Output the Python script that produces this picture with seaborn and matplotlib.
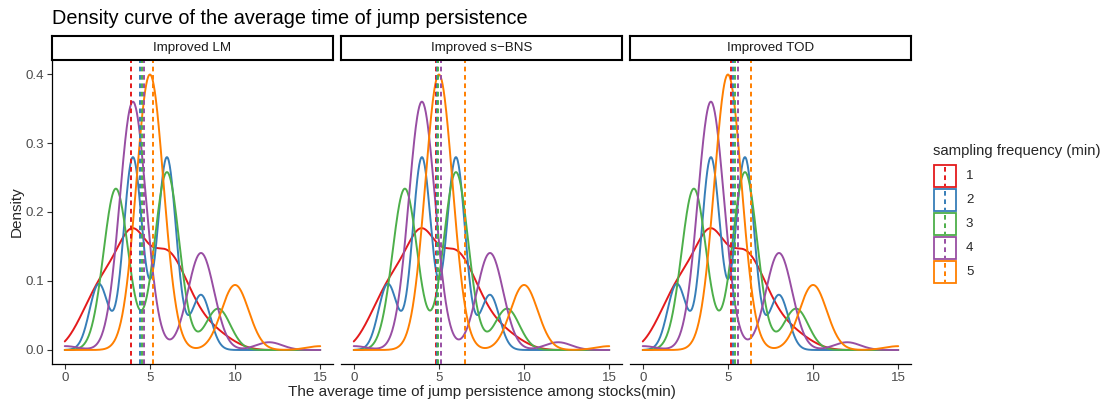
import numpy as np
import pandas as pd
import matplotlib
matplotlib.use("Agg")
import matplotlib.pyplot as plt
import seaborn as sns
from matplotlib.patches import Rectangle

# ---------------- data ----------------
methods = ["Improved LM", "Improved s\u2212BNS", "Improved TOD"]
freq_labels = ["1", "2", "3", "4", "5"]

# observed average persistence times (min) and how many stocks take each value
freq1_values = [1, 2, 3, 4, 5, 6, 7, 8, 9, 10]
freq1_counts = [5, 11, 13, 22, 12, 17, 11, 5, 3, 1]
freq2_values = [2, 4, 6, 8]
freq2_counts = [12, 35, 35, 10]
freq3_values = [3, 6, 9]
freq3_counts = [39, 43, 10]
freq4_values = [0, 4, 8, 12]
freq4_counts = [1, 64, 25, 2]
freq5_values = [5, 10, 15]
freq5_counts = [72, 17, 1]

# mean lines per method (freq 1..5)
means_LM = [3.90, 4.40, 4.52, 4.64, 5.18]
means_sBNS = [4.82, 4.90, 4.97, 5.12, 6.55]
means_TOD = [5.20, 5.31, 5.41, 5.60, 6.33]

colors = ["#E41A1C", "#377EB8", "#4DAF4A", "#984EA3", "#FF7F00"]

title = "Density curve of the average time of jump persistence"
xlabel = "The average time of jump persistence among stocks(min)"
ylabel = "Density"
legend_title = "sampling frequency (min)"
yticks = [0.0, 0.1, 0.2, 0.3, 0.4]
xticks = [0, 5, 10, 15]

# ---------------- build observations ----------------
value_sets = [freq1_values, freq2_values, freq3_values, freq4_values, freq5_values]
count_sets = [freq1_counts, freq2_counts, freq3_counts, freq4_counts, freq5_counts]
obs = pd.concat(
    [pd.DataFrame({"time": np.repeat(np.asarray(v, float), c), "freq": f})
     for f, v, c in zip(freq_labels, value_sets, count_sets)],
    ignore_index=True)
mean_sets = [means_LM, means_sBNS, means_TOD]
pal = dict(zip(freq_labels, colors))


def bw_nrd0(kde):
    """R's default bandwidth (bw.nrd0), expressed as a scipy factor."""
    x = np.asarray(kde.dataset).ravel()
    sd = x.std(ddof=1)
    q1, q3 = np.percentile(x, [25, 75])
    lo = min(sd, (q3 - q1) / 1.34)
    if lo == 0:
        lo = sd if sd else (abs(x[0]) if x[0] else 1.0)
    h = 0.9 * lo * len(x) ** -0.2
    return h / sd


# ---------------- figure ----------------
sns.set_style("white")
plt.rcParams["font.family"] = ["Liberation Sans", "DejaVu Sans"]

W, H = 1108, 401
fig = plt.figure(figsize=(W / 100, H / 100), dpi=100)

panels_px = [(52, 333), (341, 622), (630, 911)]
top_px, bot_px, strip_top = 60, 364, 36
tick_col = "#333333"
lab_col = "#4D4D4D"
LW = 1.4
DASH = (0, (2.4, 1.9))

for i, (method, (l, r)) in enumerate(zip(methods, panels_px)):
    ax = fig.add_axes([l / W, (H - bot_px) / H, (r - l) / W, (bot_px - top_px) / H])
    sns.kdeplot(data=obs, x="time", hue="freq", hue_order=freq_labels,
                palette=pal, common_norm=False, common_grid=True, cut=0,
                gridsize=512, bw_method=bw_nrd0, linewidth=LW,
                legend=False, ax=ax)
    # ggplot draws later groups on top
    for ln in ax.lines:
        c = matplotlib.colors.to_hex(ln.get_color()).upper()
        if c in colors:
            ln.set_zorder(2 + colors.index(c) * 0.01)
    for m, c in zip(mean_sets[i], colors):
        ax.axvline(m, color=c, lw=LW, linestyle=DASH, zorder=3)

    ax.set_xlim(-0.75, 15.75)
    ax.set_ylim(-0.0203, 0.4203)
    ax.set_xlabel("")
    ax.set_ylabel("")
    ax.set_xticks(xticks)
    ax.set_xticklabels([str(t) for t in xticks])
    for s in ["top", "right"]:
        ax.spines[s].set_visible(False)
    ax.spines["bottom"].set_color("black")
    ax.spines["bottom"].set_linewidth(0.9)
    if i == 0:
        ax.spines["left"].set_color("black")
        ax.spines["left"].set_linewidth(0.9)
        ax.set_yticks(yticks)
        ax.set_yticklabels([f"{t:.1f}" for t in yticks])
        ax.tick_params(axis="y", left=True, length=3.5, width=0.8, color=tick_col,
                       labelsize=9.6, labelcolor=lab_col, pad=2)
    else:
        ax.spines["left"].set_visible(False)
        ax.set_yticks([])
    ax.tick_params(axis="x", bottom=True, length=3.5, width=0.8, color=tick_col,
                   labelsize=9.6, labelcolor=lab_col, pad=2)
    ax.patch.set_alpha(0)

    # strip
    sax = fig.add_axes([l / W, (H - top_px) / H, (r - l) / W, (top_px - strip_top) / H])
    sax.set_xticks([])
    sax.set_yticks([])
    for s in sax.spines.values():
        s.set_visible(True)
        s.set_color("black")
        s.set_linewidth(1.5)
    sax.set_facecolor("white")
    sax.text(0.5, 0.5, method, ha="center", va="center", fontsize=9.6,
             color="#1A1A1A", transform=sax.transAxes)

# overlay in pixel coordinates for titles and legend
ov = fig.add_axes([0, 0, 1, 1])
ov.set_xlim(0, W)
ov.set_ylim(H, 0)
ov.axis("off")
ov.patch.set_alpha(0)

ov.text(52, 18, title, fontsize=14.3, ha="left", va="center", color="black")
ov.text((52 + 911) / 2, 392, xlabel, fontsize=11, ha="center", va="center")
ov.text(17, (top_px + bot_px) / 2, ylabel, fontsize=11, ha="center", va="center",
        rotation=90)

ov.text(933, 151, legend_title, fontsize=10.7, ha="left", va="center")
for k, (lab, c) in enumerate(zip(freq_labels, colors)):
    y0 = 165 + 24 * k
    ov.add_patch(Rectangle((933.5, y0), 22.5, 22, facecolor="white", edgecolor=c, lw=1.3))
    ov.plot([944.75, 944.75], [y0 + 1.5, y0 + 20.5], color=c, lw=LW, linestyle=DASH)
    ov.text(966, y0 + 11, lab, fontsize=9.6, ha="left", va="center")

fig.savefig("out.png", dpi=100)
